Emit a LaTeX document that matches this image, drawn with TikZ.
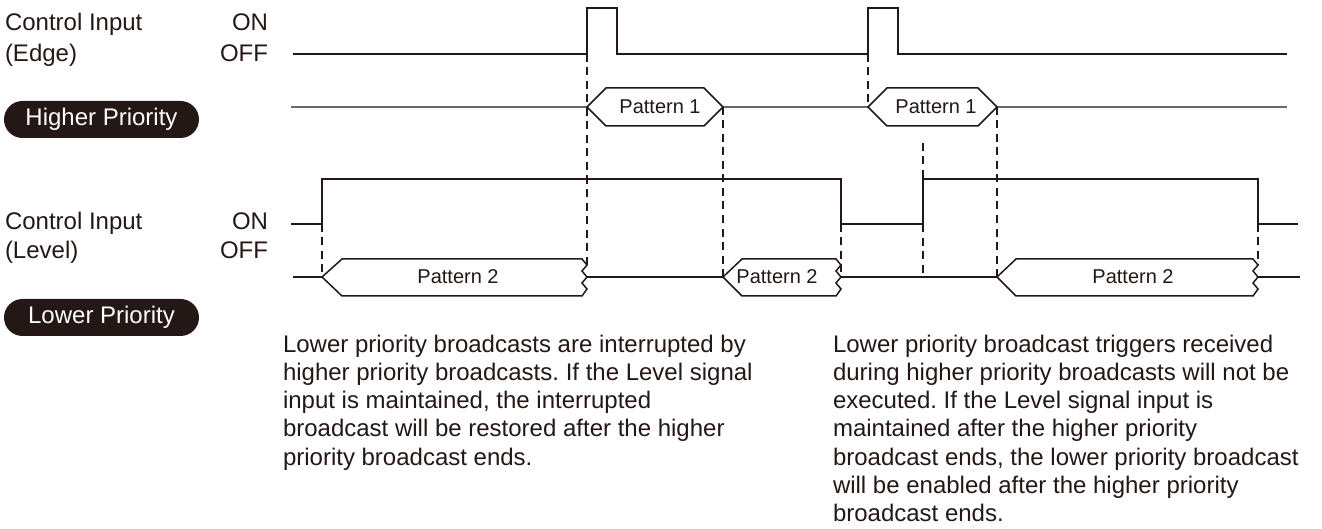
\documentclass[tikz,border=0pt]{standalone}
\usepackage{fontspec}
\setmainfont{Liberation Sans}
\frenchspacing
\definecolor{ink}{HTML}{231815}
\definecolor{idleink}{HTML}{6A6767}
\tikzset{
  caption/.style={anchor=base west,font=\fontsize{12bp}{14bp}\selectfont,text=ink},
  state/.style={anchor=base east,font=\fontsize{12bp}{14bp}\selectfont,text=ink},
  note/.style={anchor=base west,font=\fontsize{12bp}{14bp}\selectfont,text=ink},
  pill/.style={fill=ink,rounded corners=9.25bp,minimum width=97.5bp,minimum height=18.5bp,font=\fontsize{12bp}{14bp}\selectfont,text=white},
  slot/.style={fill=white,draw=ink,line width=0.75bp,line join=miter},
  slotname/.style={font=\fontsize{10bp}{12bp}\selectfont,text=ink},
  wave/.style={draw=ink,line width=0.75bp},
  idle/.style={draw=idleink,line width=0.9bp},
  guide/.style={draw=ink,line width=0.7bp,dash pattern=on 4bp off 2.75bp}
}

\begin{document}
\begin{tikzpicture}[x=0.5bp,y=-0.5bp,every node/.style={inner sep=0pt,outer sep=0pt}]
\path[use as bounding box] (0,0) rectangle (1322,529);

% left column labels
\node[caption] (edge-name-1) at (5,31) {Control Input};
\node[caption] (edge-name-2) at (5,62) {(Edge)};
\node[state] (edge-on) at (268,31) {ON};
\node[state] (edge-off) at (268,62) {OFF};
\node[pill] (high-tag) at (101.5,119.5) {Higher Priority};
\node[caption] (level-name-1) at (5,230) {Control Input};
\node[caption] (level-name-2) at (5,259) {(Level)};
\node[state] (level-on) at (268,230) {ON};
\node[state] (level-off) at (268,259) {OFF};
\node[pill] (low-tag) at (101.5,317.5) {Lower Priority};

% edge input
\draw[wave] (293,54) -- (587,54) -- (587,8) -- (617,8) -- (617,54) -- (868,54) -- (868,8) -- (898,8) -- (898,54) -- (1287,54);

% higher priority bus
\draw[idle] (291,107) -- (587,107);
\draw[idle] (723,107) -- (868,107);
\draw[idle] (997,107) -- (1287,107);

% level input
\draw[wave] (291,224) -- (322,224) -- (322,179) -- (841,179) -- (841,224) -- (923,224) -- (923,179) -- (1258,179) -- (1258,224) -- (1298,224);

% lower priority bus
\draw[wave] (293,277) -- (322,277);
\draw[wave] (587,277) -- (723,277);
\draw[wave] (841,277) -- (997,277);
\draw[wave] (1258,277) -- (1300,277);

% timing guides
\draw[guide] (587,54) -- (587,265);
\draw[guide] (723,107) -- (723,277);
\draw[guide] (322,224) -- (322,277);
\draw[guide] (841,224) -- (841,277);
\draw[guide] (868,54) -- (868,107);
\draw[guide] (923,143) -- (923,277);
\draw[guide] (997,107) -- (997,277);
\draw[guide] (1258,224) -- (1258,265);

% pattern 1 slots
\draw[slot] (587,107) -- (606,88) -- (704,88) -- (723,107) -- (704,126) -- (606,126) -- cycle;
\node[slotname] (p1-a) at (660,107) {Pattern 1};
\draw[slot] (868,107) -- (887,88) -- (978,88) -- (997,107) -- (978,126) -- (887,126) -- cycle;
\node[slotname] (p1-b) at (936,107) {Pattern 1};

% pattern 2 slots, cut ends
\draw[slot] (322,277) -- (342,259) -- (582,259) -- (587,265) -- (582,271) -- (587,277) -- (582,283) -- (587,289) -- (582,296) -- (342,296) -- cycle;
\node[slotname] (p2-a) at (458,277) {Pattern 2};
\draw[slot] (723,277) -- (742,259) -- (836,259) -- (841,265) -- (836,271) -- (841,277) -- (836,283) -- (841,289) -- (836,296) -- (742,296) -- cycle;
\node[slotname] (p2-b) at (777,277) {Pattern 2};
\draw[slot] (997,277) -- (1016,259) -- (1253,259) -- (1258,265) -- (1253,271) -- (1258,277) -- (1253,283) -- (1258,289) -- (1253,296) -- (1016,296) -- cycle;
\node[slotname] (p2-c) at (1133,277) {Pattern 2};

% notes
\node[note] (left-note-1) at (283,352) {Lower priority broadcasts are interrupted by};
\node[note] (left-note-2) at (283,380.3) {higher priority broadcasts. If the Level signal};
\node[note] (left-note-3) at (283,408.6) {input is maintained, the interrupted};
\node[note] (left-note-4) at (283,436.9) {broadcast will be restored after the higher};
\node[note] (left-note-5) at (283,465.2) {priority broadcast ends.};
\node[note] (right-note-1) at (833,352) {Lower priority broadcast triggers received};
\node[note] (right-note-2) at (833,380.3) {during higher priority broadcasts will not be};
\node[note] (right-note-3) at (833,408.6) {executed. If the Level signal input is};
\node[note] (right-note-4) at (833,436.9) {maintained after the higher priority};
\node[note] (right-note-5) at (833,465.2) {broadcast ends, the lower priority broadcast};
\node[note] (right-note-6) at (833,493.5) {will be enabled after the higher priority};
\node[note] (right-note-7) at (833,521.8) {broadcast ends.};
\end{tikzpicture}
\end{document}
